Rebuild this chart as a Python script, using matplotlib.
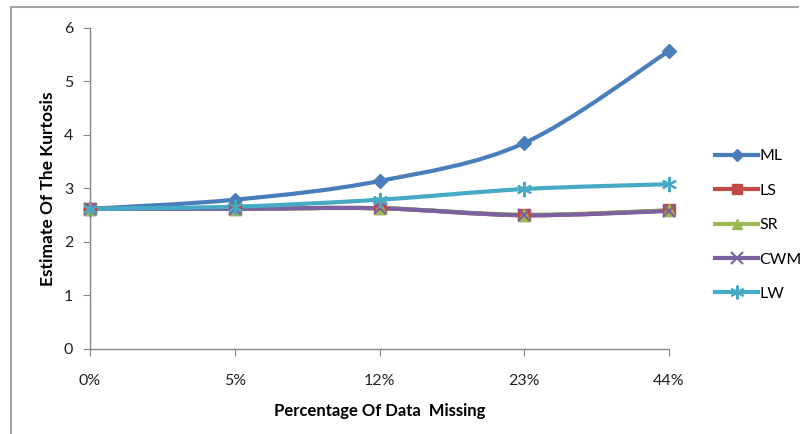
import matplotlib.pyplot as plt
import numpy as np
from matplotlib.path import Path
from matplotlib.patches import PathPatch
from matplotlib.lines import Line2D

categories = ['0%', '5%', '12%', '23%', '44%']
ml = [2.62, 2.79, 3.14, 3.85, 5.57]
ls = [2.62, 2.62, 2.63, 2.50, 2.59]
sr = [2.62, 2.62, 2.63, 2.51, 2.59]
cwm = [2.62, 2.62, 2.63, 2.50, 2.58]
lw = [2.62, 2.66, 2.79, 2.99, 3.08]

names = ['ML', 'LS', 'SR', 'CWM', 'LW']
colors = ['#4A7EBB', '#BE4B48', '#98B954', '#7D60A0', '#46AAC5']
markers = ['D', 's', '^', 'x', (6, 2, 0)]
msizes = [7, 8, 8, 9, 11]
series = [ml, ls, sr, cwm, lw]


def smooth_path(x, y, t=1 / 6):
    # Catmull-Rom style cubic Bezier through the points
    pts = np.column_stack([x, y]).astype(float)
    verts = [pts[0]]
    codes = [Path.MOVETO]
    n = len(pts)
    for i in range(n - 1):
        p0 = pts[max(i - 1, 0)]
        p1 = pts[i]
        p2 = pts[i + 1]
        p3 = pts[min(i + 2, n - 1)]
        c1 = p1 + (p2 - p0) * t
        c2 = p2 - (p3 - p1) * t
        verts += [c1, c2, p2]
        codes += [Path.CURVE4] * 3
    return Path(verts, codes)


def mew(m):
    return 1.5 if m == 'x' or isinstance(m, tuple) else 1


plt.rcParams['font.family'] = ['Lato', 'DejaVu Sans']
fig = plt.figure(figsize=(8.08, 4.34), dpi=100)
ax = fig.add_axes([0.1114, 0.1959, 0.7166, 0.7396])

x = np.arange(len(categories))
for vals, c, m, ms in zip(series, colors, markers, msizes):
    ax.add_patch(PathPatch(smooth_path(x, vals), fill=False, edgecolor=c,
                           lw=3, capstyle='round', joinstyle='round', zorder=2))
    ax.plot(x, vals, linestyle='none', marker=m, color=c, markersize=ms,
            markeredgewidth=mew(m), zorder=3, clip_on=False)

ax.set_xlim(0, len(categories) - 1)
ax.set_ylim(0, 6)
ax.set_xticks(x)
ax.set_xticklabels(categories)
ax.set_yticks(range(7))
for s in ['top', 'right']:
    ax.spines[s].set_visible(False)
for s in ['left', 'bottom']:
    ax.spines[s].set_color('#868686')
    ax.spines[s].set_linewidth(1)
ax.tick_params(axis='both', direction='out', length=5, color='#868686',
               labelsize=11.5, labelcolor='#222222')
ax.tick_params(axis='x', pad=13)
ax.tick_params(axis='y', pad=7)
ax.set_xlabel('Percentage Of Data  Missing', fontsize=12, fontweight='bold',
              labelpad=11)
ax.set_ylabel('Estimate Of The Kurtosis', fontsize=12.5, fontweight='bold',
              labelpad=6)

handles = [Line2D([], [], color=c, lw=3, marker=m, markersize=ms - 1,
                  markeredgewidth=mew(m))
           for c, m, ms in zip(colors, markers, msizes)]
fig.legend(handles, names, loc='upper left', bbox_to_anchor=(0.875, 0.675),
           frameon=False, fontsize=11.5, handlelength=2.7, labelspacing=1.27,
           handletextpad=0.1, borderpad=0)

# outer chart border (left and top edges)
fig.add_artist(Line2D([11 / 808, 11 / 808], [0, 1 - 7 / 434],
                      transform=fig.transFigure, color='#A6A6A6', lw=1.5))
fig.add_artist(Line2D([11 / 808, 798 / 808], [1 - 7 / 434, 1 - 7 / 434],
                      transform=fig.transFigure, color='#A6A6A6', lw=1.5))

fig.savefig('out.png', dpi=100)
